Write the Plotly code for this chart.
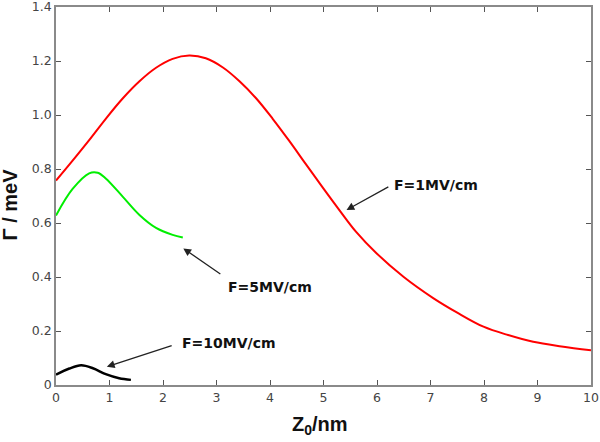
import plotly.graph_objects as go

# F = 1 MV/cm (red)
x_f1 = [0, 0.31, 0.62, 0.93, 1.25, 1.56, 1.87, 2.18, 2.49, 2.80, 3.12, 3.43, 3.74, 4.05, 4.36, 4.67, 4.98, 5.30, 5.61, 5.99, 6.5, 7.05, 7.5, 7.99, 8.45, 8.92, 9.45, 10.0]
y_f1 = [0.757, 0.831, 0.907, 0.986, 1.062, 1.125, 1.175, 1.208, 1.220, 1.210, 1.176, 1.125, 1.062, 0.986, 0.904, 0.818, 0.733, 0.647, 0.567, 0.488, 0.400, 0.322, 0.268, 0.216, 0.185, 0.160, 0.143, 0.129]

# F = 5 MV/cm (green)
x_f5 = [0, 0.31, 0.62, 0.78, 0.93, 1.25, 1.56, 1.87, 2.18, 2.37]
y_f5 = [0.628, 0.726, 0.784, 0.786, 0.765, 0.697, 0.630, 0.582, 0.556, 0.546]

# F = 10 MV/cm (black)
x_f10 = [0, 0.25, 0.47, 0.69, 0.93, 1.18, 1.40]
y_f10 = [0.038, 0.061, 0.073, 0.062, 0.040, 0.025, 0.019]

x_ticks = [0, 1, 2, 3, 4, 5, 6, 7, 8, 9, 10]
y_ticks = [0, 0.2, 0.4, 0.6, 0.8, 1.0, 1.2, 1.4]
y_ticktext = ["0", "0.2", "0.4", "0.6", "0.8", "1.0", "1.2", "1.4"]

x_title = "Z<sub>0</sub>/nm"
y_title = "Γ / meV"

# annotation labels: text, text position, arrow head, arrow tail
labels = ["F=1MV/cm", "F=5MV/cm", "F=10MV/cm"]
label_pos = [(7.11, 0.741), (4.0, 0.364), (3.24, 0.156)]
arrow_head = [(5.43, 0.648), (2.38, 0.506), (0.95, 0.068)]
arrow_tail = [(6.24, 0.737), (3.10, 0.407), (2.19, 0.148)]

FONT = "Liberation Sans, Arial, sans-serif"
WIDE = "DejaVu Sans, sans-serif"

fig = go.Figure()
fig.add_trace(go.Scatter(x=x_f1, y=y_f1, mode="lines", line=dict(color="#ff0000", width=2, shape="spline", smoothing=1.0), showlegend=False))
fig.add_trace(go.Scatter(x=x_f5, y=y_f5, mode="lines", line=dict(color="#00ee00", width=2, shape="spline", smoothing=1.0), showlegend=False))
fig.add_trace(go.Scatter(x=x_f10, y=y_f10, mode="lines", line=dict(color="#000000", width=2.5, shape="spline", smoothing=1.0), showlegend=False))

for t, p in zip(labels, label_pos):
    fig.add_annotation(x=p[0], y=p[1], xref="x", yref="y", text="<b>%s</b>" % t, showarrow=False,
                       font=dict(family=WIDE, size=14, color="#111111"))
for h, tl in zip(arrow_head, arrow_tail):
    fig.add_annotation(x=h[0], y=h[1], ax=tl[0], ay=tl[1], xref="x", yref="y", axref="x", ayref="y",
                       text="", showarrow=True, arrowhead=2, arrowsize=1.2, arrowwidth=1.3, arrowcolor="#222222")

# axis titles
fig.add_annotation(x=0.493, y=-0.068, xref="paper", yref="paper", text="<b>%s</b>" % x_title,
                   showarrow=False, xanchor="center", yanchor="top",
                   font=dict(family=FONT, size=20, color="#111111"))
fig.add_annotation(x=-0.087, y=0.479, xref="paper", yref="paper", text="<b>%s</b>" % y_title,
                   showarrow=False, xanchor="center", yanchor="middle", textangle=-90,
                   font=dict(family=FONT, size=20, color="#111111"))

axis_common = dict(showline=True, linecolor="#8a8a8a", linewidth=1.5, mirror="ticks", ticks="inside",
                   ticklen=5, tickcolor="#555555", showgrid=False, zeroline=False, automargin=False,
                   ticklabeloverflow="allow",
                   tickfont=dict(family=WIDE, size=12.5, color="#444444"))

fig.update_xaxes(range=[0, 10], tickvals=x_ticks, **axis_common)
fig.update_yaxes(range=[0, 1.4], tickvals=y_ticks, ticktext=y_ticktext, **axis_common)

fig.update_layout(width=600, height=442, margin=dict(l=56, r=9, t=7, b=57),
                  plot_bgcolor="white", paper_bgcolor="white")

fig.write_html("out.html", config={"displayModeBar": False},
               post_script="document.body.style.margin='0';document.body.style.overflow='hidden';")
